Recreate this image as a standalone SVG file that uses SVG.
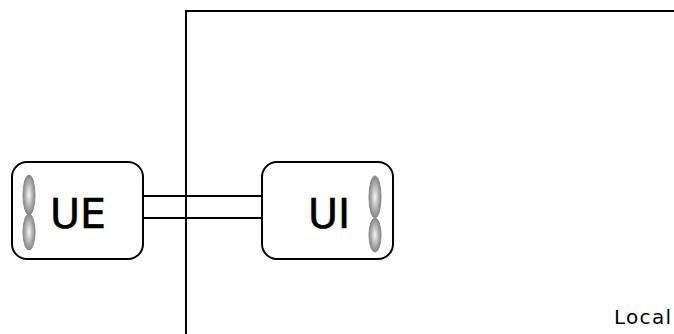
<svg xmlns="http://www.w3.org/2000/svg" width="674" height="334" viewBox="0 0 674 334">
<style>
.node{fill:#fff;stroke:#000;stroke-width:2}
.lbl{font-family:"DejaVu Sans",Verdana,sans-serif;font-size:41px;fill:#000;stroke:#000;stroke-width:0.6}
.line{stroke:#000;stroke-width:2;fill:none}
.led{fill:url(#g);stroke:#8a8a8a;stroke-width:1}
</style>
<defs>
<radialGradient id="g" cx="0.5" cy="0.5" r="0.5">
<stop offset="0" stop-color="#f4f4f4"/>
<stop offset="0.5" stop-color="#bdbdbd"/>
<stop offset="1" stop-color="#858585"/>
</radialGradient>
</defs>
<rect width="674" height="334" fill="#fff"/>
<g id="area">
<path class="line" d="M186 334 V11 H674"/>
<text x="614" y="324" font-family="DejaVu Sans,Verdana,sans-serif" font-size="20" textLength="57" fill="#000">Local</text>
</g>
<g id="connectors">
<line class="line" x1="143" y1="196" x2="262" y2="196"/>
<line class="line" x1="143" y1="218" x2="262" y2="218"/>
</g>
<g id="UE">
<rect class="node" x="12" y="162" width="131" height="97" rx="15"/>
<ellipse class="led" cx="29" cy="195" rx="6" ry="20"/>
<ellipse class="led" cx="29" cy="232" rx="6" ry="18"/>
<text class="lbl" x="50" y="228">UE</text>
</g>
<g id="UI">
<rect class="node" x="262" y="162" width="131" height="97" rx="15"/>
<ellipse class="led" cx="375" cy="197" rx="6" ry="21"/>
<ellipse class="led" cx="375" cy="235" rx="6" ry="17"/>
<text class="lbl" x="308" y="228">UI</text>
</g>
</svg>
